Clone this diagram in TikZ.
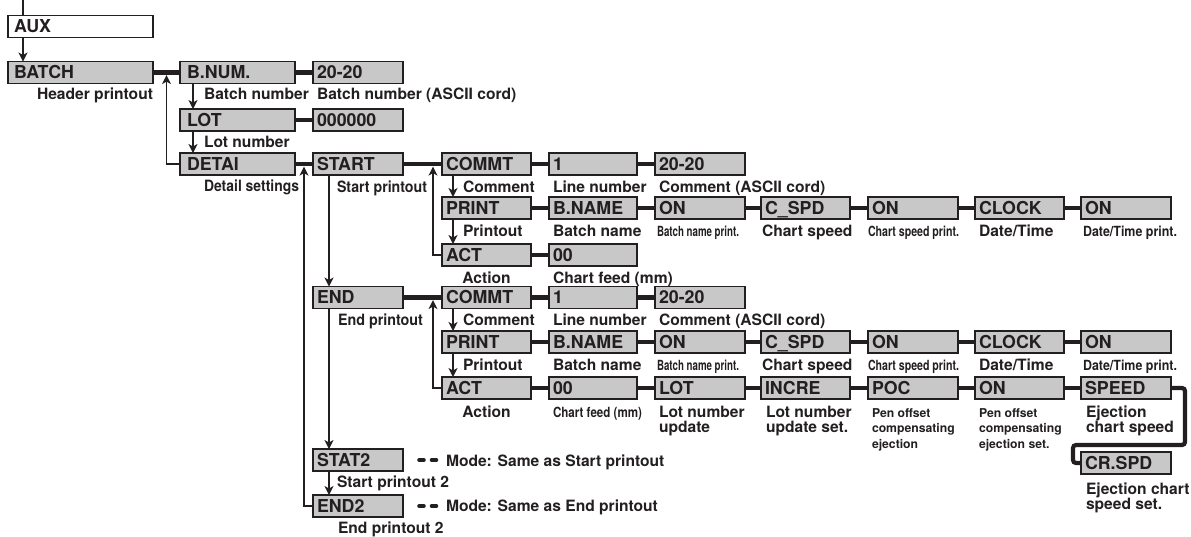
\documentclass[tikz,border=0pt]{standalone}
\usepackage{fontspec}
\usepackage{graphicx}
\setmainfont{TeX Gyre Heros}
\usetikzlibrary{arrows.meta}
\definecolor{ink}{HTML}{231F20}
\definecolor{boxfill}{HTML}{C8C8C8}
\newcommand\boxfont{\fontsize{17.8}{20}\selectfont\bfseries}
\newcommand\labfont{\fontsize{15.6}{15.5}\selectfont\bfseries}
\newcommand\condfont{\fontsize{14}{15.5}\selectfont\bfseries}
\newcommand\minifont{\fontsize{12.2}{15.5}\selectfont\bfseries}
\newcommand\fitw[2]{\resizebox{#1}{\height}{#2}}
\newcommand\bx[6][]{\node[box,#1] (#2) at (#3,#4) {\makebox[\dimexpr#5pt-8pt\relax][l]{#6}};}
\newcommand\lb[5][]{\node[lab,#1] (#2) at (#3,#4) {#5};}
\tikzset{
  box/.style={draw=ink, line width=1.3pt, fill=boxfill, minimum height=22pt,
    inner xsep=4pt, inner ysep=0pt, outer sep=0pt, anchor=west, font=\boxfont,
    text=ink, text height=12.8pt, text depth=0pt},
  auxbox/.style={fill=white},
  lab/.style={anchor=base west, inner sep=0pt, outer sep=0pt, font=\labfont,
    text=ink, align=left},
  link/.style={draw=ink, line width=4.2pt},
  arr/.style={draw=ink, line width=1.3pt, -{Stealth[length=9pt,width=9pt,inset=2.5pt]}},
  thinline/.style={draw=ink, line width=1.3pt},
  dotpair/.style={draw=ink, line width=4.6pt, line cap=round},
  bendlink/.style={draw=ink, line width=4.2pt, rounded corners=3pt}
}
\begin{document}
\begin{tikzpicture}[x=1pt,y=-1pt]
\useasboundingbox (0,0) rectangle (1191,536);
% ---------- boxes ----------
\bx[auxbox]{aux}{8}{26.5}{145}{\hspace{2pt}AUX}
\bx{batch}{8}{72.5}{145}{\hspace{2pt}BATCH}
\bx{bnum}{180}{72.5}{115}{\hspace{3pt}B.NUM.}
\bx{bnumv}{313}{72.5}{90}{20-20}
\bx{lot}{180}{120}{115}{\hspace{3pt}LOT}
\bx{lotv}{313}{120}{90}{000000}
\bx{detai}{180}{164}{115}{\hspace{3pt}DETAI}
\bx{start}{313}{164}{90}{START}
\bx{commtA}{442}{164}{89}{COMMT}
\bx{lineA}{549}{164}{88}{1}
\bx{cmtA}{655}{164}{90}{20-20}
\bx{printA}{442}{208}{89}{PRINT}
\bx{bnameA}{549}{208}{88}{B.NAME}
\bx{bnonA}{655}{208}{90}{ON}
\bx{cspdA}{761}{208}{89}{C\_SPD}
\bx{csonA}{868}{208}{90}{ON}
\bx{clockA}{975}{208}{89}{CLOCK}
\bx{clonA}{1081}{208}{90}{ON}
\bx{actA}{442}{255}{89}{ACT}
\bx{feedA}{549}{255}{88}{00}
\bx{end}{313}{297.5}{90}{END}
\bx{commtB}{442}{297.5}{89}{COMMT}
\bx{lineB}{549}{297.5}{88}{1}
\bx{cmtB}{655}{297.5}{90}{20-20}
\bx{printB}{442}{342}{89}{PRINT}
\bx{bnameB}{549}{342}{88}{B.NAME}
\bx{bnonB}{655}{342}{90}{ON}
\bx{cspdB}{761}{342}{89}{C\_SPD}
\bx{csonB}{868}{342}{90}{ON}
\bx{clockB}{975}{342}{89}{CLOCK}
\bx{clonB}{1081}{342}{90}{ON}
\bx{actB}{442}{388}{89}{ACT}
\bx{feedB}{549}{388}{88}{00}
\bx{lotB}{655}{388}{90}{LOT}
\bx{incre}{761}{388}{89}{INCRE}
\bx{poc}{868}{388}{90}{POC}
\bx{pocon}{975}{388}{89}{ON}
\bx{speed}{1081}{388}{90}{SPEED}
\bx{crspd}{1081}{463}{90}{CR.SPD}
\bx{stat2}{313}{460}{90}{STAT2}
\bx{end2}{313}{506}{90}{END2}
% ---------- thick links ----------
\draw[link] (batch.east) -- (bnum.west);
\draw[link] (bnum.east) -- (bnumv.west);
\draw[link] (lot.east) -- (lotv.west);
\draw[link] (detai.east) -- (start.west);
\draw[link] (start.east) -- (commtA.west);
\draw[link] (commtA.east) -- (lineA.west);
\draw[link] (lineA.east) -- (cmtA.west);
\draw[link] (printA.east) -- (bnameA.west);
\draw[link] (bnameA.east) -- (bnonA.west);
\draw[link] (bnonA.east) -- (cspdA.west);
\draw[link] (cspdA.east) -- (csonA.west);
\draw[link] (csonA.east) -- (clockA.west);
\draw[link] (clockA.east) -- (clonA.west);
\draw[link] (actA.east) -- (feedA.west);
\draw[link] (end.east) -- (commtB.west);
\draw[link] (commtB.east) -- (lineB.west);
\draw[link] (lineB.east) -- (cmtB.west);
\draw[link] (printB.east) -- (bnameB.west);
\draw[link] (bnameB.east) -- (bnonB.west);
\draw[link] (bnonB.east) -- (cspdB.west);
\draw[link] (cspdB.east) -- (csonB.west);
\draw[link] (csonB.east) -- (clockB.west);
\draw[link] (clockB.east) -- (clonB.west);
\draw[link] (actB.east) -- (feedB.west);
\draw[link] (feedB.east) -- (lotB.west);
\draw[link] (lotB.east) -- (incre.west);
\draw[link] (incre.east) -- (poc.west);
\draw[link] (poc.east) -- (pocon.west);
\draw[link] (pocon.east) -- (speed.west);
\coordinate (bendA) at (1185,445);
\coordinate (bendB) at (1073,445);
\draw[bendlink] (speed.east) -| (bendA) -- (bendB) |- (crspd.west);
% ---------- thin arrows ----------
\coordinate (top) at (23,0);
\draw[thinline] (top) -- ([xshift=15pt]aux.north west);
\draw[arr] ([xshift=15pt]aux.south west) -- ([xshift=15pt]batch.north west);
\draw[arr] ([xshift=13pt]bnum.south west) -- ([xshift=13pt]lot.north west);
\draw[arr] ([xshift=13pt]lot.south west) -- ([xshift=13pt]detai.north west);
\draw[arr] ([xshift=16pt]start.south west) -- ([xshift=16pt]end.north west);
\draw[arr] ([xshift=16pt]end.south west) -- ([xshift=16pt]stat2.north west);
\draw[arr] ([xshift=16pt]stat2.south west) -- ([xshift=16pt]end2.north west);
\draw[arr] ([xshift=11pt]commtA.south west) -- ([xshift=11pt]printA.north west);
\draw[arr] ([xshift=11pt]printA.south west) -- ([xshift=11pt]actA.north west);
\draw[arr] ([xshift=11pt]commtB.south west) -- ([xshift=11pt]printB.north west);
\draw[arr] ([xshift=11pt]printB.south west) -- ([xshift=11pt]actB.north west);
\coordinate (j1) at (166.5,72.5);
\coordinate (j2) at (304,164);
\coordinate (j3) at (433,164);
\coordinate (j4) at (433,297.5);
\draw[arr, shorten >=2.6pt] (detai.west) -| (j1);
\draw[arr, shorten >=2.6pt] (end2.west) -| (j2);
\draw[arr, shorten >=2.6pt] (actA.west) -| (j3);
\draw[arr, shorten >=2.6pt] (actB.west) -| (j4);
% ---------- dots ----------
\draw[dotpair] ([xshift=16.5pt]stat2.east) -- ++(4pt,0) ([xshift=29pt]stat2.east) -- ++(4pt,0);
\draw[dotpair] ([xshift=16.5pt]end2.east) -- ++(4pt,0) ([xshift=29pt]end2.east) -- ++(4pt,0);
% ---------- labels ----------
\lb{lhdr}{37}{99.5}{Header printout}
\lb{lbnum}{204}{99.5}{Batch number}
\lb{lbnumv}{317}{99.5}{Batch number (ASCII cord)}
\lb{llot}{204}{147.5}{Lot number}
\lb[anchor=base east]{ldetai}{299}{191.5}{\fitw{95pt}{Detail settings}}
\lb{lstart}{337}{192}{\fitw{90pt}{Start printout}}
\lb{lcmtA}{463}{192}{Comment}
\lb{llineA}{553}{192}{Line number}
\lb{lascA}{659}{192}{Comment (ASCII cord)}
\lb{lprA}{463}{236}{Printout}
\lb{lbnA}{553}{236}{Batch name}
\lb[font=\condfont]{lbnpA}{657}{236}{\fitw{82pt}{Batch name print.}}
\lb{lcsA}{762}{236}{Chart speed}
\lb[font=\condfont]{lcspA}{868}{236}{\fitw{91pt}{Chart speed print.}}
\lb{ldtA}{979}{236}{Date/Time}
\lb[font=\condfont]{ldtpA}{1083}{236}{\fitw{94pt}{Date/Time print.}}
\lb[anchor=base]{lactA}{486.5}{283}{Action}
\lb{lfeedA}{553}{283}{Chart feed (mm)}
\lb{lend}{338}{325}{\fitw{85pt}{End printout}}
\lb{lcmtB}{463}{325}{Comment}
\lb{llineB}{553}{325}{Line number}
\lb{lascB}{659}{325}{Comment (ASCII cord)}
\lb{lprB}{463}{370}{Printout}
\lb{lbnB}{553}{370}{Batch name}
\lb[font=\condfont]{lbnpB}{657}{370}{\fitw{82pt}{Batch name print.}}
\lb{lcsB}{762}{370}{Chart speed}
\lb[font=\condfont]{lcspB}{868}{370}{\fitw{91pt}{Chart speed print.}}
\lb{ldtB}{979}{370}{Date/Time}
\lb[font=\condfont]{ldtpB}{1083}{370}{\fitw{94pt}{Date/Time print.}}
\lb[anchor=base]{lactB}{486.5}{417}{Action}
\lb[font=\condfont]{lfeedB}{553}{417}{\fitw{89pt}{Chart feed (mm)}}
\lb{llotB}{659}{432.5}{Lot number\\update}
\lb{lincre}{766}{432.5}{Lot number\\update set.}
\lb[font=\minifont]{lpoc}{872}{448}{Pen offset\\compensating\\ejection}
\lb[font=\minifont]{lpocon}{979}{448}{Pen offset\\compensating\\ejection set.}
\lb{lspeed}{1086}{432.5}{Ejection\\chart speed}
\lb{lcrspd}{1086}{509.5}{Ejection chart\\speed set.}
\lb{lmodeS}{446}{466.5}{Mode: Same as Start printout}
\lb{lstat2}{337}{487}{Start printout 2}
\lb{lmodeE}{446}{511.5}{Mode: Same as End printout}
\lb{lend2}{338}{533}{End printout 2}
\end{tikzpicture}
\end{document}
